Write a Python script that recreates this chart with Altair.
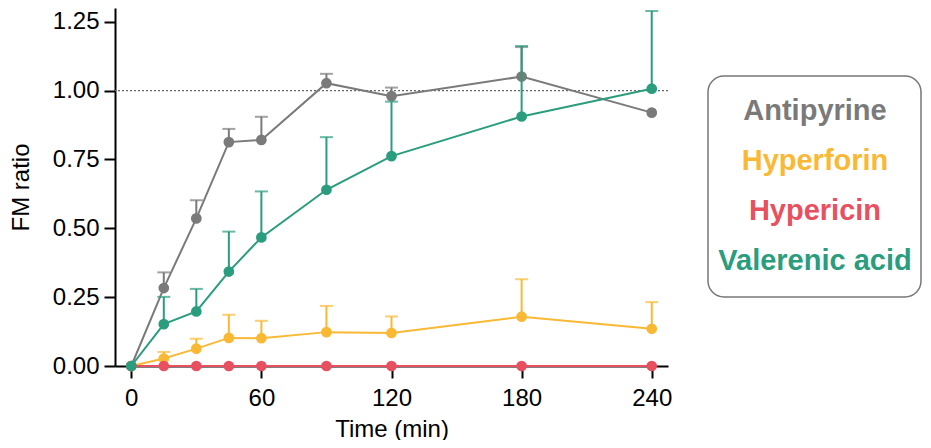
import altair as alt
import pandas as pd

times = [0, 15, 30, 45, 60, 90, 120, 180, 240]
series = ["Antipyrine", "Hyperforin", "Hypericin", "Valerenic acid"]
colors = ["#7a7a7a", "#f9b934", "#e8505f", "#2a9d7e"]

antipyrine_mean = [0.0, 0.283, 0.536, 0.813, 0.821, 1.027, 0.980, 1.051, 0.920]
antipyrine_upper = [None, 0.340, 0.602, 0.861, 0.905, 1.061, 1.011, 1.158, None]

hyperforin_mean = [0.0, 0.027, 0.063, 0.102, 0.101, 0.123, 0.120, 0.179, 0.135]
hyperforin_upper = [None, 0.051, 0.099, 0.186, 0.164, 0.218, 0.180, 0.315, 0.232]

hypericin_mean = [0.0, 0.0, 0.0, 0.0, 0.0, 0.0, 0.0, 0.0, 0.0]
hypericin_upper = [None, None, None, None, None, None, None, None, None]

valerenic_mean = [0.0, 0.152, 0.198, 0.343, 0.467, 0.640, 0.762, 0.906, 1.007]
valerenic_upper = [None, 0.251, 0.280, 0.488, 0.634, 0.831, 0.960, 1.162, 1.289]

means = [antipyrine_mean, hyperforin_mean, hypericin_mean, valerenic_mean]
uppers = [antipyrine_upper, hyperforin_upper, hypericin_upper, valerenic_upper]

rows = []
for s, m, u in zip(series, means, uppers):
    for t, mv, uv in zip(times, m, u):
        rows.append({"time": t, "compound": s, "mean": mv, "upper": uv})
df = pd.DataFrame(rows)

W, H = 553, 358
FONT = "Liberation Sans"

xscale = alt.Scale(domain=[-7.5, 247.5], nice=False, zero=False)
yscale = alt.Scale(domain=[0, 1.3], nice=False)
cscale = alt.Scale(domain=series, range=colors)

xaxis = alt.Axis(values=[0, 60, 120, 180, 240], title="Time (min)", grid=False,
                 labelFontSize=24, titleFontSize=24, titleFontWeight="normal",
                 tickSize=12, tickWidth=2, domainWidth=2, domainColor="black",
                 tickColor="black", labelColor="black", titleColor="black",
                 labelPadding=8, titlePadding=7, labelFont=FONT, titleFont=FONT)
yaxis = alt.Axis(values=[0, 0.25, 0.5, 0.75, 1.0, 1.25], format=".2f", title="FM ratio",
                 grid=False, labelFontSize=24, titleFontSize=24, titleFontWeight="normal",
                 tickSize=11, tickWidth=2, domainWidth=2, domainColor="black",
                 tickColor="black", labelColor="black", titleColor="black",
                 labelPadding=5, titlePadding=19, labelFont=FONT, titleFont=FONT)

base = alt.Chart(df)

refline = alt.Chart(pd.DataFrame({"v": [1.0]})).mark_rule(
    color="#666666", strokeDash=[2, 2], strokeWidth=1.2
).encode(y=alt.Y("v:Q", scale=yscale, axis=yaxis))

layers = [refline]
for s in series:
    sub = base.transform_filter(alt.datum.compound == s)
    err = sub.transform_filter("isValid(datum.upper)")
    layers.append(err.mark_rule(strokeWidth=2).encode(
        x=alt.X("time:Q", scale=xscale, axis=xaxis),
        y=alt.Y("mean:Q", scale=yscale),
        y2="upper:Q",
        color=alt.Color("compound:N", scale=cscale, legend=None)))
    layers.append(err.mark_tick(orient="horizontal", size=13, thickness=2).encode(
        x=alt.X("time:Q", scale=xscale),
        y=alt.Y("upper:Q", scale=yscale),
        color=alt.Color("compound:N", scale=cscale, legend=None)))
    layers.append(sub.mark_line(strokeWidth=2).encode(
        x=alt.X("time:Q", scale=xscale, axis=xaxis),
        y=alt.Y("mean:Q", scale=yscale, axis=yaxis),
        color=alt.Color("compound:N", scale=cscale, legend=None)))
    layers.append(sub.mark_point(filled=True, size=115, opacity=1).encode(
        x=alt.X("time:Q", scale=xscale),
        y=alt.Y("mean:Q", scale=yscale),
        color=alt.Color("compound:N", scale=cscale, legend=None)))

# Legend box and coloured labels
one = pd.DataFrame({"a": [0]})
box = alt.Chart(one).mark_rect(
    fill="white", stroke="#777777", strokeWidth=1.5, cornerRadius=16
).encode(x=alt.value(593), x2=alt.value(806), y=alt.value(68), y2=alt.value(289))
layers.append(box)
for i, (s, c) in enumerate(zip(series, colors)):
    layers.append(alt.Chart(one).mark_text(
        font=FONT, fontSize=29, fontWeight="bold", align="center",
        baseline="alphabetic", color=c
    ).encode(x=alt.value(700), y=alt.value(112 + 50 * i), text=alt.datum(s)))

chart = alt.layer(*layers).properties(
    width=W, height=H,
    autosize=alt.AutoSizeParams(type="none"),
    padding={"left": 107, "top": 0, "right": 255, "bottom": 74},
).configure_view(stroke=None)

chart.save("out.html", embed_options={"renderer": "svg", "actions": False})
